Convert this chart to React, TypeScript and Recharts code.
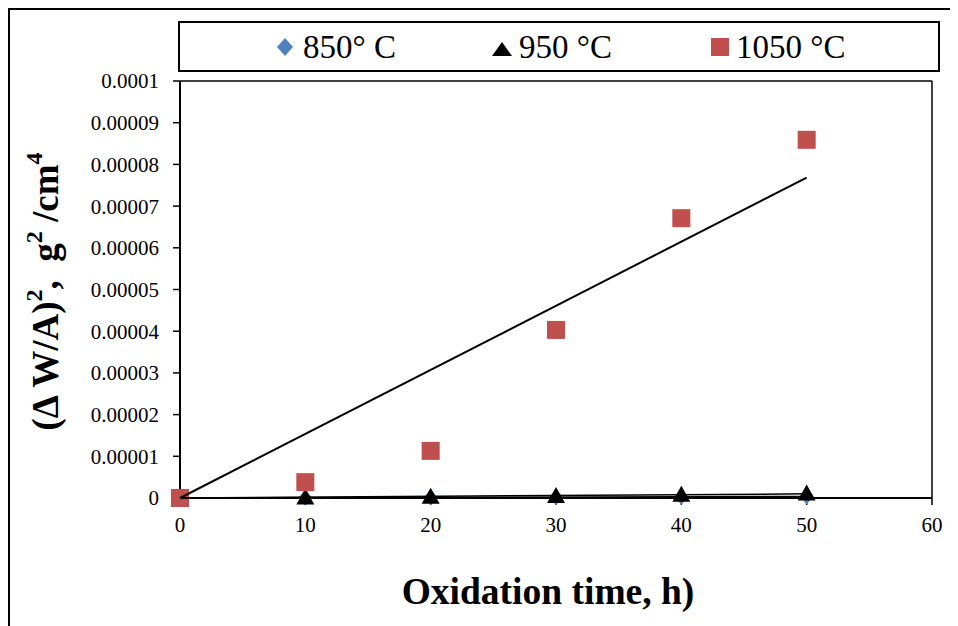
import React from 'react';
import { ScatterChart, Scatter, XAxis, YAxis, ReferenceLine, Legend, Label } from 'recharts';

const times = [0, 10, 20, 30, 40, 50];
const w850 = [0, 0.00000005, 0.0000001, 0.0000002, 0.0000003, 0.0000004];
const w950 = [0, 0.0000001, 0.0000003, 0.0000005, 0.0000008, 0.0000011];
const w1050 = [0, 0.0000038, 0.0000113, 0.0000403, 0.0000671, 0.0000859];
const xTicks = [0, 10, 20, 30, 40, 50, 60];
const yTicks = [0, 0.00001, 0.00002, 0.00003, 0.00004, 0.00005, 0.00006, 0.00007, 0.00008, 0.00009, 0.0001];
const seriesNames = ['850° C', '950 °C', '1050 °C'];
const xTitle = 'Oxidation time, h)';

const BLUE = '#4F81BD';
const RED = '#C0504D';
const FONT = '"Liberation Serif", "Times New Roman", serif';

const toPoints = (ys: number[]) => times.map((t, i) => ({ x: t, y: ys[i] }));
const trend = (ys: number[]) => {
  let sxy = 0;
  let sxx = 0;
  times.forEach((t, i) => {
    sxy += t * ys[i];
    sxx += t * t;
  });
  const slope = sxy / sxx;
  const x0 = times[0];
  const x1 = times[times.length - 1];
  return [
    { x: x0, y: slope * x0 },
    { x: x1, y: slope * x1 },
  ];
};

const Diamond = (props: any) => {
  const { cx, cy } = props;
  return <polygon points={`${cx},${cy - 8} ${cx + 7},${cy} ${cx},${cy + 8} ${cx - 7},${cy}`} fill={BLUE} />;
};
const Triangle = (props: any) => {
  const { cx, cy } = props;
  return <polygon points={`${cx},${cy - 9} ${cx + 9},${cy + 7} ${cx - 9},${cy + 7}`} fill="#000" />;
};
const Square = (props: any) => {
  const { cx, cy } = props;
  return <rect x={cx - 9} y={cy - 9} width={18} height={18} fill={RED} />;
};
const Empty = () => <g />;

const fmtY = (v: number) => (v === 0 ? '0' : String(parseFloat(v.toFixed(6))));

const legendContent = () => (
  <div
    style={{
      boxSizing: 'border-box',
      width: 762,
      height: 51,
      border: '2px solid #000',
      display: 'flex',
      alignItems: 'center',
      justifyContent: 'flex-start',
      paddingLeft: 97,
      fontFamily: FONT,
      fontSize: 33,
      color: '#000',
      background: '#fff',
      whiteSpace: 'pre',
    }}
  >
    <span style={{ display: 'flex', alignItems: 'center', marginRight: 96 }}>
      <svg width={16} height={18} style={{ marginRight: 10 }}>
        <polygon points="8,0 16,9 8,18 0,9" fill={BLUE} />
      </svg>
      <span style={{ lineHeight: '34px' }}>{seriesNames[0]}</span>
    </span>
    <span style={{ display: 'flex', alignItems: 'center', marginRight: 99 }}>
      <svg width={20} height={18} style={{ marginRight: 7, marginTop: 4 }}>
        <polygon points="10,2 20,16 0,16" fill="#000" />
      </svg>
      <span style={{ lineHeight: '34px' }}>{seriesNames[1]}</span>
    </span>
    <span style={{ display: 'flex', alignItems: 'center' }}>
      <svg width={18} height={18} style={{ marginRight: 7 }}>
        <rect x={0} y={0} width={18} height={18} fill={RED} />
      </svg>
      <span style={{ lineHeight: '34px' }}>{seriesNames[2]}</span>
    </span>
  </div>
);

const YTitle = (props: any) => {
  const vb = props.viewBox || {};
  const cx = vb.x + 35;
  const cy = vb.y + vb.height / 2 + 2;
  return (
    <text
      x={cx}
      y={cy}
      transform={`rotate(-90, ${cx}, ${cy})`}
      textAnchor="middle"
      dominantBaseline="central"
      fontFamily={FONT}
      fontWeight="bold"
      fontSize={37}
      fill="#000"
      style={{ whiteSpace: 'pre' }}
    >
      <tspan>(Δ W/A)</tspan>
      <tspan fontSize={24} dy={-11}>2</tspan>
      <tspan dy={11}>{',  g'}</tspan>
      <tspan fontSize={24} dy={-11}>2</tspan>
      <tspan dy={11}>{' /cm'}</tspan>
      <tspan fontSize={24} dy={-11}>4</tspan>
    </text>
  );
};

const XTitle = (props: any) => {
  const vb = props.viewBox || {};
  const cx = vb.x + vb.width / 2 - 8;
  const cy = vb.y + 93;
  return (
    <text
      x={cx}
      y={cy}
      textAnchor="middle"
      dominantBaseline="central"
      fontFamily={FONT}
      fontWeight="bold"
      fontSize={37.5}
      fill="#000"
    >
      {xTitle}
    </text>
  );
};

export default function App() {
  return (
    <div
      style={{
        position: 'relative',
        width: 950,
        height: 618,
        borderTop: '2px solid #000',
        borderLeft: '2px solid #000',
        boxSizing: 'border-box',
        background: '#fff',
      }}
    >
      <ScatterChart width={946} height={614} margin={{ top: 71, right: 24, bottom: 96, left: 0 }}>
        <XAxis
          type="number"
          dataKey="x"
          domain={[0, 60]}
          ticks={xTicks}
          interval={0}
          height={30}
          tickSize={7}
          tickMargin={12}
          axisLine={{ stroke: '#000', strokeWidth: 2 }}
          tickLine={{ stroke: '#000', strokeWidth: 1.5 }}
          tick={{ fontFamily: FONT, fontSize: 21, fill: '#000' }}
        >
          <Label content={<XTitle />} />
        </XAxis>
        <YAxis
          type="number"
          dataKey="y"
          domain={[0, 0.0001]}
          ticks={yTicks}
          interval={0}
          width={170}
          tickSize={7}
          tickMargin={14}
          tickFormatter={fmtY}
          axisLine={{ stroke: '#000', strokeWidth: 2 }}
          tickLine={{ stroke: '#000', strokeWidth: 1.5 }}
          tick={{ fontFamily: FONT, fontSize: 21, fill: '#000' }}
        >
          <Label content={<YTitle />} />
        </YAxis>
        <ReferenceLine y={0.0001} stroke="#000" strokeWidth={1.5} />
        <ReferenceLine x={60} stroke="#000" strokeWidth={1.5} />
        <Legend
          verticalAlign="middle"
          layout="horizontal"
          wrapperStyle={{ top: 11, left: 168, width: 762, height: 51 }}
          content={legendContent}
        />
        <Scatter name={seriesNames[0]} data={toPoints(w850)} shape={<Diamond />} isAnimationActive={false} />
        <Scatter name={seriesNames[1]} data={toPoints(w950)} shape={<Triangle />} isAnimationActive={false} />
        <Scatter name={seriesNames[2]} data={toPoints(w1050)} shape={<Square />} isAnimationActive={false} />
        <Scatter
          data={trend(w850)}
          shape={<Empty />}
          line={{ stroke: '#000', strokeWidth: 1.5 }}
          legendType="none"
          isAnimationActive={false}
        />
        <Scatter
          data={trend(w950)}
          shape={<Empty />}
          line={{ stroke: '#000', strokeWidth: 1.5 }}
          legendType="none"
          isAnimationActive={false}
        />
        <Scatter
          data={trend(w1050)}
          shape={<Empty />}
          line={{ stroke: '#000', strokeWidth: 2 }}
          legendType="none"
          isAnimationActive={false}
        />
      </ScatterChart>
    </div>
  );
}
